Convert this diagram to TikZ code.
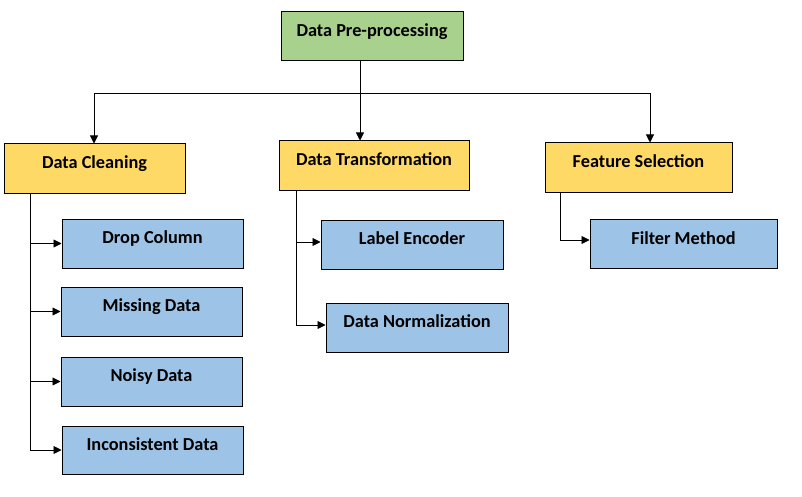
\documentclass[tikz,border=0pt]{standalone}
\usepackage{fontspec}
\setmainfont{Carlito}
\usetikzlibrary{arrows.meta}
\definecolor{cgreen}{HTML}{A9D18E}
\definecolor{cyellow}{HTML}{FFD966}
\definecolor{cblue}{HTML}{9DC3E6}
\begin{document}
\begin{tikzpicture}[x=1pt,y=-1pt,
  box/.style={draw=black, line width=1pt, inner sep=0pt, minimum height=49pt,
    text height=8pt, text depth=8pt, font=\fontsize{18.3}{21}\selectfont\bfseries},
  gbox/.style={box, fill=cgreen},
  ybox/.style={box, fill=cyellow},
  bbox/.style={box, fill=cblue},
  conn/.style={line width=0.9pt},
  arr/.style={conn, -{Triangle[length=8pt,width=8pt]}}]
\useasboundingbox (0,0) rectangle (802,497);
\fill[white] (0,0) rectangle (802,497);
% nodes
\node[gbox, minimum width=182pt] (top) at (372,36.5) {Data Pre-processing};
\node[ybox, minimum width=181pt] (dc) at (94.5,168.5) {Data Cleaning};
\node[ybox, minimum width=190pt] (dt) at (374,165.5) {Data Transformation};
\node[ybox, minimum width=187pt] (fs) at (638.5,167.5) {Feature Selection};
\node[bbox, minimum width=181pt] (b1) at (152.5,243.5) {Drop Column};
\node[bbox, minimum width=181pt] (b2) at (151.5,311.5) {Missing Data};
\node[bbox, minimum width=181pt] (b3) at (151.5,381.5) {Noisy Data};
\node[bbox, minimum width=181pt, minimum height=48pt] (b4) at (152.5,450) {Inconsistent Data};
\node[bbox, minimum width=182pt] (le) at (412,244.5) {Label Encoder};
\node[bbox, minimum width=182pt] (dn) at (417,327.5) {Data Normalization};
\node[bbox, minimum width=187pt] (fm) at (683.5,244) {Filter Method};
% coordinates
\coordinate (topout) at (360,61);
\coordinate (bus) at (360,93);
\coordinate (busL) at (94,93);
\coordinate (busR) at (650,93);
\coordinate (dcx) at (30,193);
\coordinate (dtx) at (296,190);
\coordinate (fsx) at (560,192);
% connectors
\draw[arr] (topout) -- (topout |- dt.north);
\draw[conn] (busL) -- (busR);
\draw[arr] (busL) -- (busL |- dc.north);
\draw[arr] (busR) -- (busR |- fs.north);
\draw[conn] (dcx) -- (dcx |- b4.west);
\draw[arr] (dcx) |- (b1.west);
\draw[arr] (dcx) |- (b2.west);
\draw[arr] (dcx) |- (b3.west);
\draw[arr] (dcx) |- (b4.west);
\draw[arr] (dtx) |- ([yshift=2.5pt]le.west);
\draw[arr] (dtx) |- ([yshift=2.5pt]dn.west);
\draw[arr] (fsx) |- ([yshift=4pt]fm.west);
\end{tikzpicture}
\end{document}
